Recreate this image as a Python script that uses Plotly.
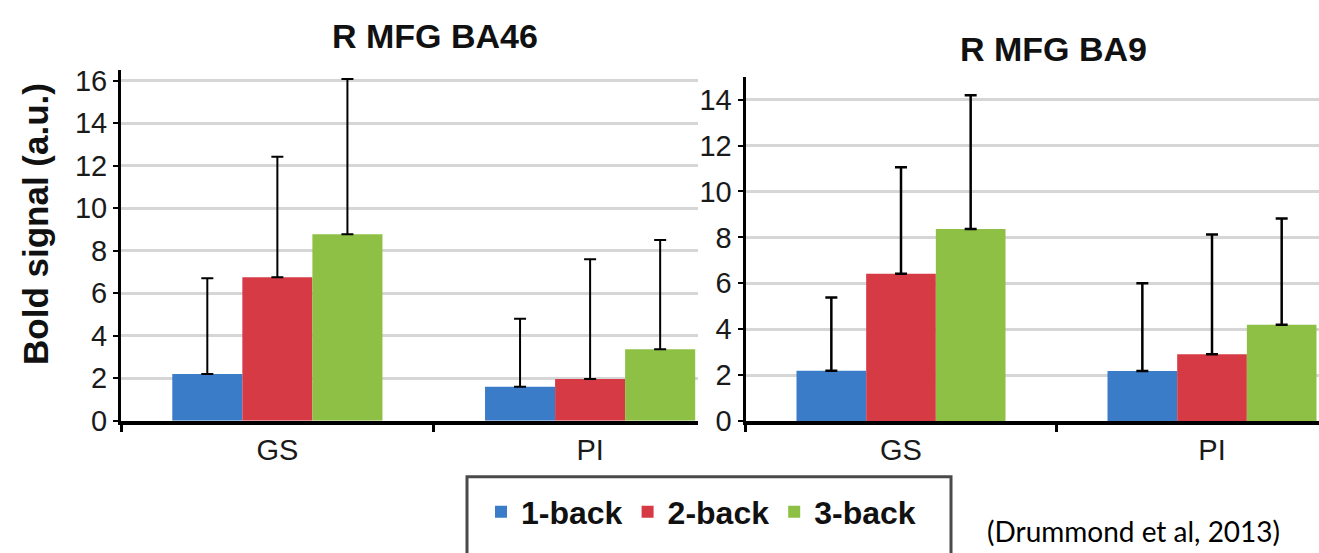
import plotly.graph_objects as go

# ---------------- data ----------------
categories = ["GS", "PI"]
series_names = ["1-back", "2-back", "3-back"]
series_colors = ["#3A7CC8", "#D63B45", "#8DC044"]

# R MFG BA46 (left panel)
ba46_values = {
    "1-back": [2.2, 1.6],
    "2-back": [6.75, 1.96],
    "3-back": [8.77, 3.36],
}
ba46_errors = {
    "1-back": [4.5, 3.2],
    "2-back": [5.67, 5.64],
    "3-back": [7.31, 5.14],
}

# R MFG BA9 (right panel)
ba9_values = {
    "1-back": [2.19, 2.18],
    "2-back": [6.41, 2.91],
    "3-back": [8.37, 4.19],
}
ba9_errors = {
    "1-back": [3.19, 3.82],
    "2-back": [4.64, 5.22],
    "3-back": [5.82, 4.63],
}

left_title = "R MFG BA46"
right_title = "R MFG BA9"
y_title = "Bold signal (a.u.)"
citation = "(Drummond et al, 2013)"

# ---------------- figure ----------------
W, H = 1319, 553
FONT = "Liberation Sans, Arial, sans-serif"

def px_x(p):
    return p / W

def px_y(p):
    return 1 - p / H

fig = go.Figure()

for name, color in zip(series_names, series_colors):
    fig.add_trace(go.Bar(
        x=categories, y=ba46_values[name], name=name,
        marker=dict(color=color, line=dict(width=0)),
        error_y=dict(type="data", symmetric=False, array=ba46_errors[name],
                     arrayminus=[0] * len(categories), color="black",
                     thickness=2, width=6),
        xaxis="x", yaxis="y", legendgroup=name, showlegend=True,
    ))
for name, color in zip(series_names, series_colors):
    fig.add_trace(go.Bar(
        x=categories, y=ba9_values[name], name=name,
        marker=dict(color=color, line=dict(width=0)),
        error_y=dict(type="data", symmetric=False, array=ba9_errors[name],
                     arrayminus=[0] * len(categories), color="black",
                     thickness=2.5, width=6),
        xaxis="x2", yaxis="y2", legendgroup=name, showlegend=False,
    ))

xaxis_common = dict(
    type="category", showgrid=False, showline=True, linecolor="black",
    linewidth=4, ticks="outside", tickson="boundaries", ticklen=7,
    tickwidth=3, tickcolor="black", automargin=False, zeroline=False,
    tickfont=dict(family=FONT, size=29, color="#1a1a1a"), fixedrange=True,
)
yaxis_common = dict(
    showgrid=True, gridcolor="#d6d6d6", gridwidth=3, showline=True,
    linecolor="black", linewidth=3, ticks="outside", ticklen=5,
    tickwidth=2, tickcolor="black", dtick=2, zeroline=False,
    automargin=False, tickfont=dict(family=FONT, size=29, color="#1a1a1a"),
    fixedrange=True,
)

fig.update_layout(
    width=W, height=H,
    margin=dict(l=0, r=0, t=0, b=0, pad=0),
    paper_bgcolor="white", plot_bgcolor="white",
    barmode="group", bargap=0.328, bargroupgap=0,
    xaxis=dict(xaxis_common, domain=[px_x(121), px_x(698)],
               range=[-0.5, 1.345], anchor="y"),
    yaxis=dict(yaxis_common, domain=[px_y(420.7), px_y(70)],
               range=[0, 16.5], anchor="x"),
    xaxis2=dict(xaxis_common, domain=[px_x(745.5), 1.0],
                range=[-0.5, 1.344], anchor="y2"),
    yaxis2=dict(yaxis_common, domain=[px_y(421), px_y(76.7)],
                range=[0, 15.0], anchor="x2"),
    showlegend=True,
    legend=dict(
        orientation="h", x=px_x(481), xanchor="left", y=px_y(512),
        yanchor="middle", bgcolor="rgba(0,0,0,0)", borderwidth=0,
        font=dict(family=FONT, size=32, color="#111", weight="bold"),
        traceorder="normal",
    ),
    annotations=[
        dict(text=left_title, x=px_x(435), y=px_y(36), xref="paper",
             yref="paper", showarrow=False, xanchor="center", yanchor="middle",
             font=dict(family=FONT, size=34, color="#111", weight="bold")),
        dict(text=right_title, x=px_x(1053), y=px_y(49), xref="paper",
             yref="paper", showarrow=False, xanchor="center", yanchor="middle",
             font=dict(family=FONT, size=34, color="#111", weight="bold")),
        dict(text=y_title, x=px_x(36), y=px_y(224), xref="paper",
             yref="paper", showarrow=False, xanchor="center", yanchor="middle",
             textangle=-90,
             font=dict(family=FONT, size=35, color="#111", weight="bold")),
        dict(text=citation, x=px_x(1133), y=px_y(531), xref="paper",
             yref="paper", showarrow=False, xanchor="center", yanchor="middle",
             font=dict(family="Lato, Carlito, sans-serif", size=28, color="black")),
    ],
    shapes=[
        dict(type="rect", xref="paper", yref="paper",
             x0=px_x(467), x1=px_x(951), y0=px_y(476.7), y1=px_y(600),
             line=dict(color="#4a4a4a", width=3), fillcolor="white",
             layer="below"),
    ],
)

fig.write_html(
    "out.html",
    config={"displayModeBar": False},
    post_script="document.body.style.margin='0';document.body.style.overflow='hidden';",
)
